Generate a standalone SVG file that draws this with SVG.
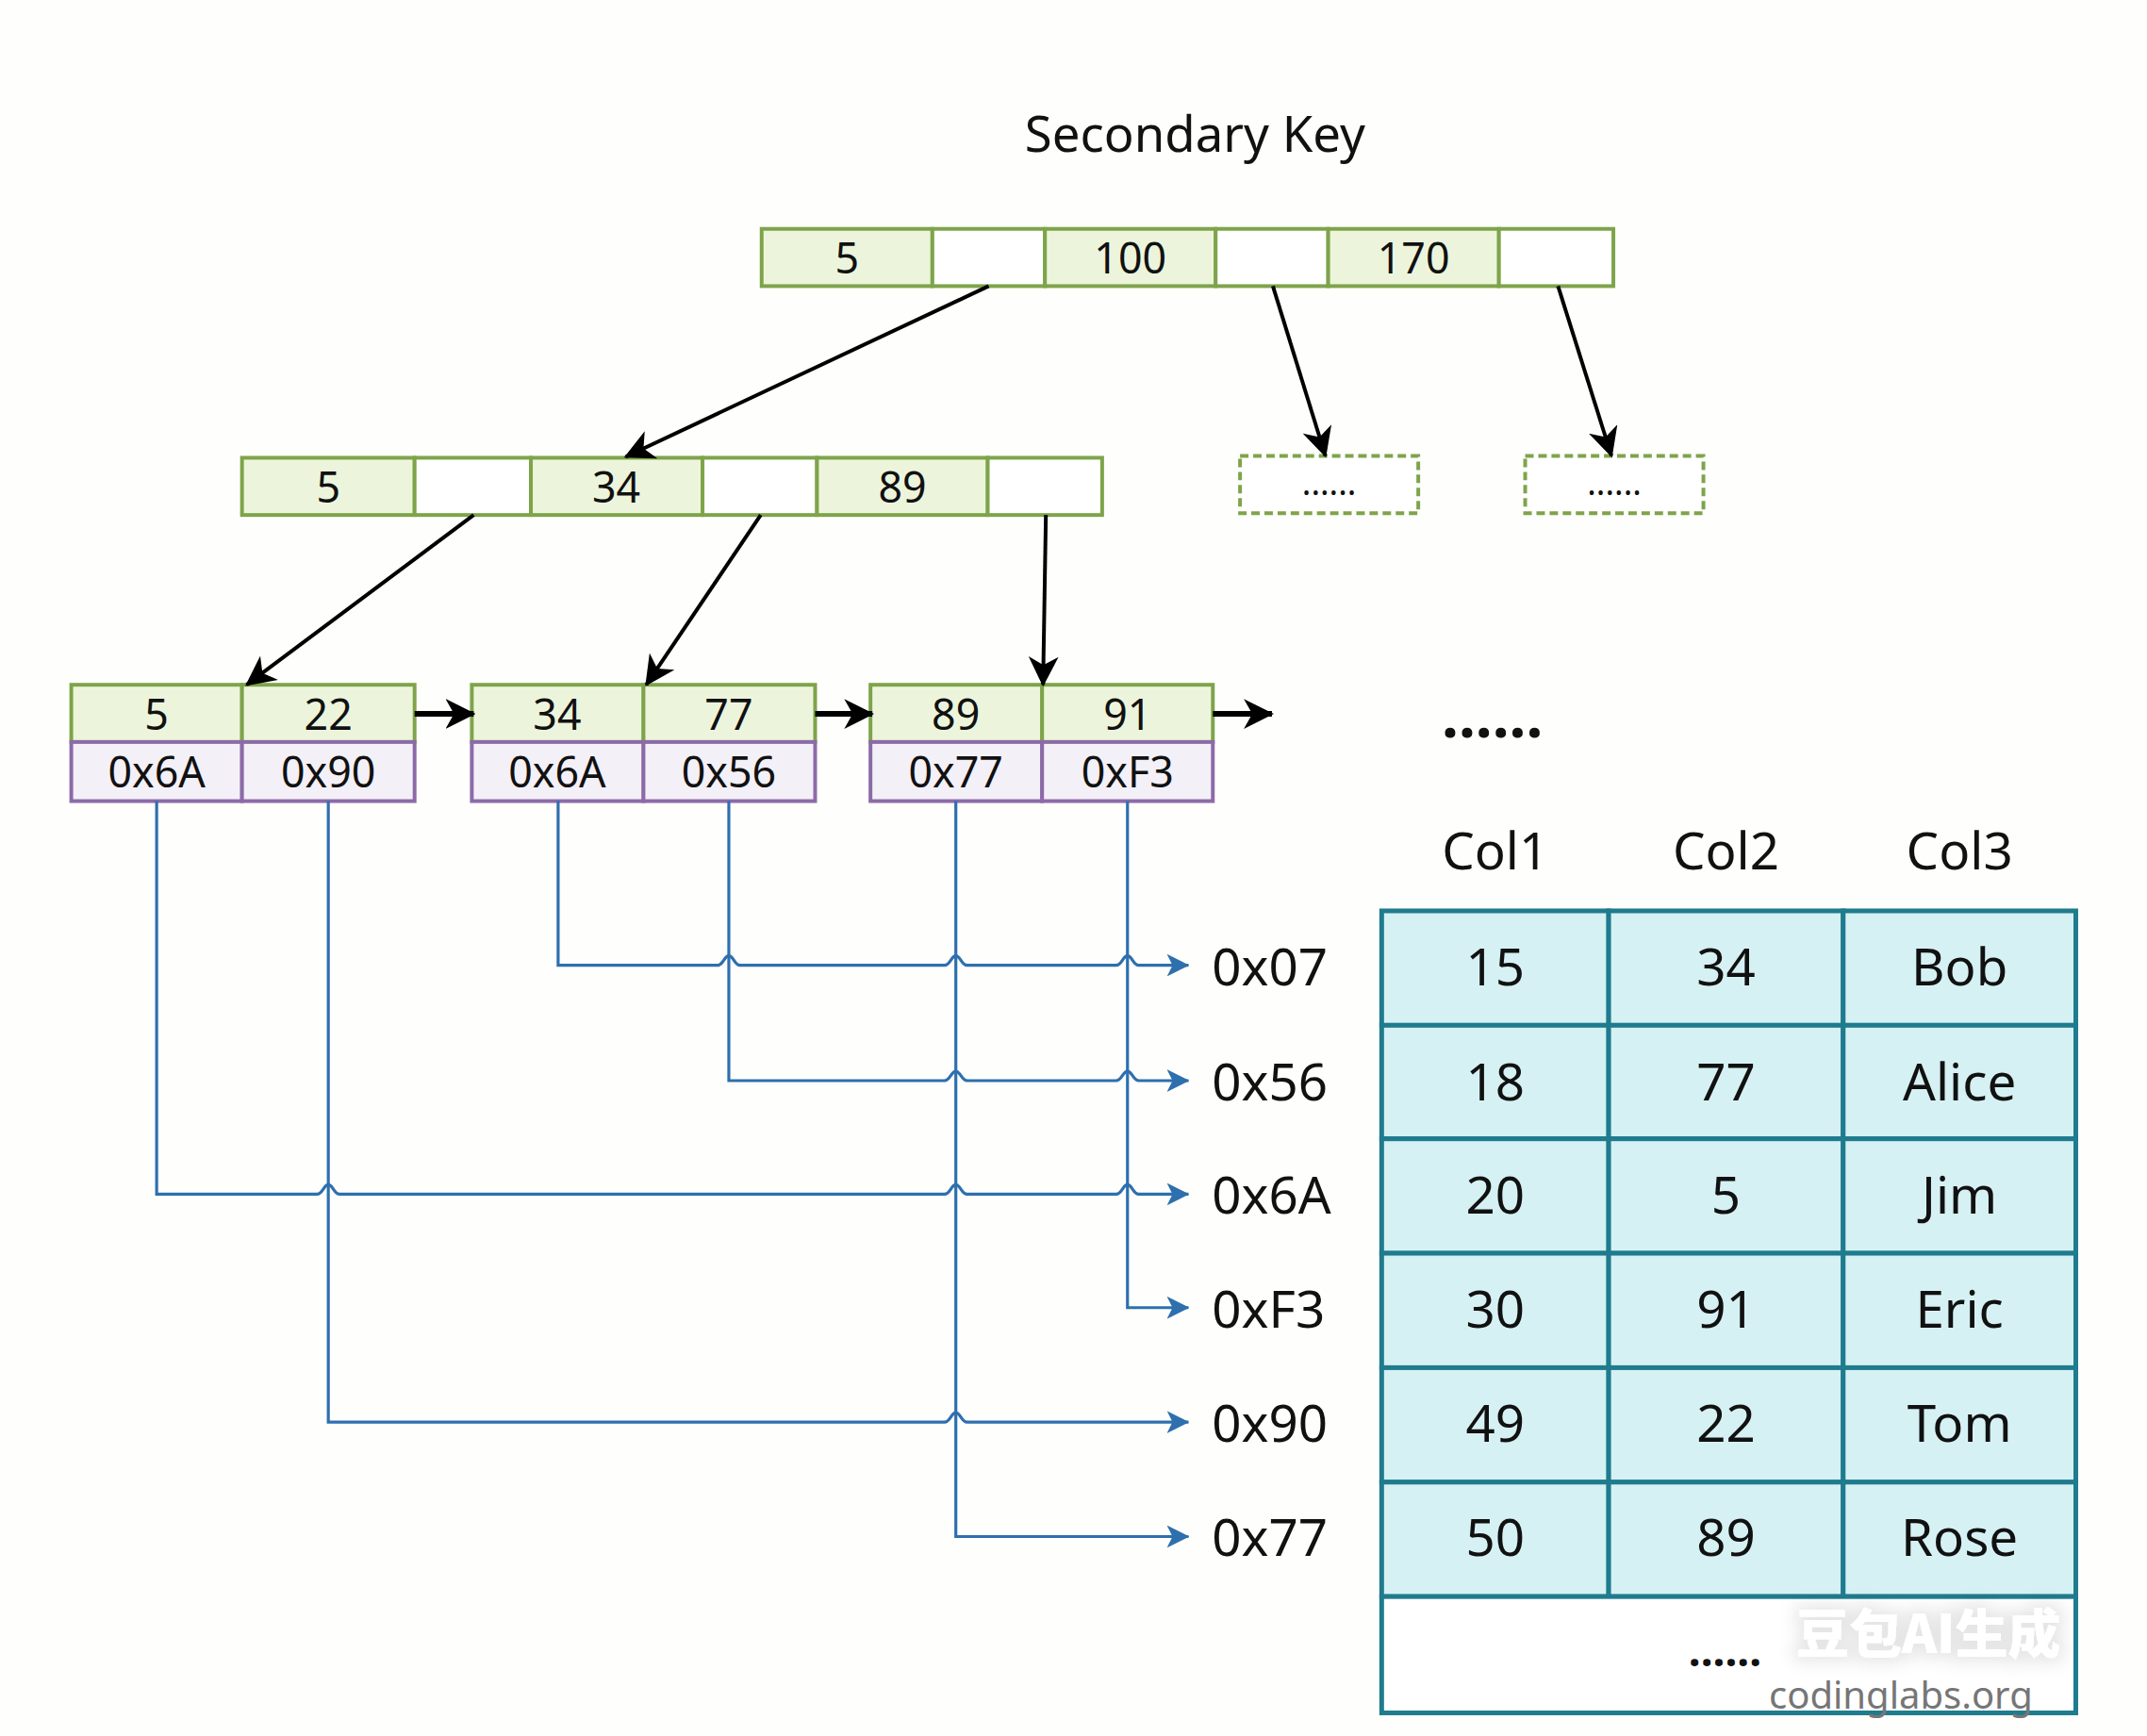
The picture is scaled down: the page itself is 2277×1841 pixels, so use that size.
<svg xmlns="http://www.w3.org/2000/svg" width="2277" height="1841" viewBox="0 0 2277 1841">
<style>
text{font-family:"Noto Sans","Open Sans",sans-serif;fill:#111;text-anchor:middle;dominant-baseline:central}
.k{fill:#ecf5dc;stroke:#7ea44a;stroke-width:4}
.p{fill:#ffffff;stroke:#7ea44a;stroke-width:4}
.a{fill:#f4f0f7;stroke:#8c6aa8;stroke-width:4}
.n{font-size:45px}
.big{font-size:55px}
.t{fill:#d6f1f3;stroke:#1f7b8e;stroke-width:5}
.tw{fill:#ffffff;stroke:#1f7b8e;stroke-width:5}
.d{fill:#ffffff;stroke:#7ea44a;stroke-width:4;stroke-dasharray:9 5}
.bl{fill:none;stroke:#000;stroke-width:4}
.bu{fill:none;stroke:#2e6fae;stroke-width:3.2}
.lbl{font-size:55px;text-anchor:start}
</style>
<defs>
<marker id="ah" viewBox="0 0 32 32" refX="30" refY="16" markerWidth="32" markerHeight="32" markerUnits="userSpaceOnUse" orient="auto">
<path d="M0,0 L32,16 L0,32 L9,16 z" fill="#000"/>
</marker>
<marker id="bh" viewBox="0 0 24 24" refX="23" refY="12" markerWidth="24" markerHeight="24" markerUnits="userSpaceOnUse" orient="auto">
<path d="M0,0 L24,12 L0,24 L6,12 z" fill="#2e6fae"/>
</marker>
<filter id="glow" x="-20%" y="-40%" width="140%" height="180%">
<feMorphology in="SourceAlpha" operator="dilate" radius="5" result="m"/>
<feGaussianBlur in="m" stdDeviation="9" result="b"/>
<feFlood flood-color="#000" flood-opacity="0.10"/>
<feComposite in2="b" operator="in" result="s"/>
<feMerge><feMergeNode in="s"/><feMergeNode in="SourceGraphic"/></feMerge>
</filter>
</defs>
<rect width="2277" height="1841" fill="#fefefc"/>
<g id="diagram" transform="scale(0.9948)">
<text id="title" x="1274" y="141" style="font-size:53px">Secondary Key</text>

<g id="root">
<rect class="k" x="812" y="244" width="182" height="61"/>
<rect class="p" x="994" y="244" width="120" height="61"/>
<rect class="k" x="1114" y="244" width="182" height="61"/>
<rect class="p" x="1296" y="244" width="120" height="61"/>
<rect class="k" x="1416" y="244" width="182" height="61"/>
<rect class="p" x="1598" y="244" width="122" height="61"/>
<text class="n" x="903" y="274">5</text>
<text class="n" x="1205" y="274">100</text>
<text class="n" x="1507" y="274">170</text>
</g>

<g id="inner">
<rect class="k" x="258" y="488" width="184" height="61"/>
<rect class="p" x="442" y="488" width="124" height="61"/>
<rect class="k" x="566" y="488" width="183" height="61"/>
<rect class="p" x="749" y="488" width="122" height="61"/>
<rect class="k" x="871" y="488" width="182" height="61"/>
<rect class="p" x="1053" y="488" width="122" height="61"/>
<text class="n" x="350" y="518">5</text>
<text class="n" x="657" y="518">34</text>
<text class="n" x="962" y="518">89</text>
</g>

<g id="dash1">
<rect class="d" x="1322" y="486" width="190" height="61"/>
<text x="1417" y="514" style="font-size:36px">......</text>
</g>
<g id="dash2">
<rect class="d" x="1626" y="486" width="190" height="61"/>
<text x="1721" y="514" style="font-size:36px">......</text>
</g>

<g id="leaf1">
<rect class="k" x="76" y="730" width="182" height="61"/>
<rect class="k" x="258" y="730" width="184" height="61"/>
<rect class="a" x="76" y="791" width="182" height="63"/>
<rect class="a" x="258" y="791" width="184" height="63"/>
<text class="n" x="167" y="760">5</text>
<text class="n" x="350" y="760">22</text>
<text class="n" x="167" y="822">0x6A</text>
<text class="n" x="350" y="822">0x90</text>
</g>
<g id="leaf2">
<rect class="k" x="503" y="730" width="183" height="61"/>
<rect class="k" x="686" y="730" width="183" height="61"/>
<rect class="a" x="503" y="791" width="183" height="63"/>
<rect class="a" x="686" y="791" width="183" height="63"/>
<text class="n" x="594" y="760">34</text>
<text class="n" x="777" y="760">77</text>
<text class="n" x="594" y="822">0x6A</text>
<text class="n" x="777" y="822">0x56</text>
</g>
<g id="leaf3">
<rect class="k" x="928" y="730" width="183" height="61"/>
<rect class="k" x="1111" y="730" width="182" height="61"/>
<rect class="a" x="928" y="791" width="183" height="63"/>
<rect class="a" x="1111" y="791" width="182" height="63"/>
<text class="n" x="1019" y="760">89</text>
<text class="n" x="1202" y="760">91</text>
<text class="n" x="1019" y="822">0x77</text>
<text class="n" x="1202" y="822">0xF3</text>
</g>

<text id="more" x="1591" y="761" style="font-size:64px;font-weight:bold">......</text>

<g id="connectors">
<line class="bl" x1="1054" y1="305" x2="667" y2="487" marker-end="url(#ah)"/>
<line class="bl" x1="1357" y1="305" x2="1413" y2="486" marker-end="url(#ah)"/>
<line class="bl" x1="1661" y1="305" x2="1718" y2="486" marker-end="url(#ah)"/>
<line class="bl" x1="505" y1="549" x2="263" y2="730" marker-end="url(#ah)"/>
<line class="bl" x1="811" y1="549" x2="689" y2="730" marker-end="url(#ah)"/>
<line class="bl" x1="1115" y1="549" x2="1112" y2="730" marker-end="url(#ah)"/>
<line class="bl" x1="442" y1="761" x2="505" y2="761" style="stroke-width:6" marker-end="url(#ah)"/>
<line class="bl" x1="869" y1="761" x2="930" y2="761" style="stroke-width:6" marker-end="url(#ah)"/>
<line class="bl" x1="1293" y1="761" x2="1356" y2="761" style="stroke-width:6" marker-end="url(#ah)"/>

<path class="bu" d="M595,854 V1029 H765 C771,1029 772,1019 777,1019 C782,1019 783,1029 789,1029 H1007 C1013,1029 1014,1019 1019,1019 C1024,1019 1025,1029 1031,1029 H1190 C1196,1029 1197,1019 1202,1019 C1207,1019 1208,1029 1214,1029 H1267" marker-end="url(#bh)"/>
<path class="bu" d="M777,854 V1152 H1007 C1013,1152 1014,1142 1019,1142 C1024,1142 1025,1152 1031,1152 H1190 C1196,1152 1197,1142 1202,1142 C1207,1142 1208,1152 1214,1152 H1267" marker-end="url(#bh)"/>
<path class="bu" d="M167,854 V1273 H338 C344,1273 345,1263 350,1263 C355,1263 356,1273 362,1273 H1007 C1013,1273 1014,1263 1019,1263 C1024,1263 1025,1273 1031,1273 H1190 C1196,1273 1197,1263 1202,1263 C1207,1263 1208,1273 1214,1273 H1267" marker-end="url(#bh)"/>
<path class="bu" d="M1202,854 V1394 H1267" marker-end="url(#bh)"/>
<path class="bu" d="M350,854 V1516 H1007 C1013,1516 1014,1506 1019,1506 C1024,1506 1025,1516 1031,1516 H1267" marker-end="url(#bh)"/>
<path class="bu" d="M1019,854 V1638 H1267" marker-end="url(#bh)"/>
</g>

<g id="addresses">
<text class="lbl" x="1292" y="1029">0x07</text>
<text class="lbl" x="1292" y="1152">0x56</text>
<text class="lbl" x="1292" y="1273">0x6A</text>
<text class="lbl" x="1292" y="1394">0xF3</text>
<text class="lbl" x="1292" y="1516">0x90</text>
<text class="lbl" x="1292" y="1638">0x77</text>
</g>

<g id="table">
<text class="big" x="1594" y="906">Col1</text>
<text class="big" x="1840" y="906">Col2</text>
<text class="big" x="2089" y="906">Col3</text>
<rect class="t" x="1473" y="971" width="242" height="122"/>
<rect class="t" x="1715" y="971" width="250" height="122"/>
<rect class="t" x="1965" y="971" width="248" height="122"/>
<rect class="t" x="1473" y="1093" width="242" height="121"/>
<rect class="t" x="1715" y="1093" width="250" height="121"/>
<rect class="t" x="1965" y="1093" width="248" height="121"/>
<rect class="t" x="1473" y="1214" width="242" height="122"/>
<rect class="t" x="1715" y="1214" width="250" height="122"/>
<rect class="t" x="1965" y="1214" width="248" height="122"/>
<rect class="t" x="1473" y="1336" width="242" height="122"/>
<rect class="t" x="1715" y="1336" width="250" height="122"/>
<rect class="t" x="1965" y="1336" width="248" height="122"/>
<rect class="t" x="1473" y="1458" width="242" height="122"/>
<rect class="t" x="1715" y="1458" width="250" height="122"/>
<rect class="t" x="1965" y="1458" width="248" height="122"/>
<rect class="t" x="1473" y="1580" width="242" height="122"/>
<rect class="t" x="1715" y="1580" width="250" height="122"/>
<rect class="t" x="1965" y="1580" width="248" height="122"/>
<rect class="tw" x="1473" y="1702" width="740" height="124"/>
<text class="big" x="1594" y="1029">15</text><text class="big" x="1840" y="1029">34</text><text class="big" x="2089" y="1029">Bob</text>
<text class="big" x="1594" y="1152">18</text><text class="big" x="1840" y="1152">77</text><text class="big" x="2089" y="1152">Alice</text>
<text class="big" x="1594" y="1273">20</text><text class="big" x="1840" y="1273">5</text><text class="big" x="2089" y="1273">Jim</text>
<text class="big" x="1594" y="1394">30</text><text class="big" x="1840" y="1394">91</text><text class="big" x="2089" y="1394">Eric</text>
<text class="big" x="1594" y="1516">49</text><text class="big" x="1840" y="1516">22</text><text class="big" x="2089" y="1516">Tom</text>
<text class="big" x="1594" y="1638">50</text><text class="big" x="1840" y="1638">89</text><text class="big" x="2089" y="1638">Rose</text>
<text x="1839" y="1758" style="font-size:46px;font-weight:bold">......</text>
</g>
</g>

<g id="watermark">
<text x="1905" y="1728" style="font-family:'Noto Sans CJK SC',sans-serif;font-size:56px;font-weight:900;fill:#ffffff;text-anchor:start" filter="url(#glow)">豆包AI生成</text>
<text x="1876" y="1812" style="font-size:40px;fill:#767676;text-anchor:start;dominant-baseline:alphabetic">codinglabs.org</text>
</g>
</svg>
